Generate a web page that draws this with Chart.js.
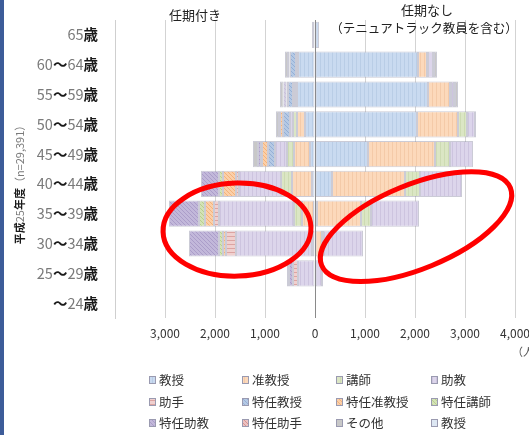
<!DOCTYPE html>
<html lang="ja">
<head>
<meta charset="utf-8">
<script src="https://cdn.jsdelivr.net/npm/chart.js"></script>
<style>
  body { margin: 0; background: #fff; }
  #wrap { position: relative; width: 529px; height: 435px; }
  #edge { position: absolute; left: 0; top: 0; width: 4px; height: 435px; background: #3d5c99; }
</style>
</head>
<body>
<div id="wrap"><div id="edge"></div><canvas id="myChart"></canvas></div>
<script>
const ages = ['65歳', '60〜64歳', '55〜59歳', '50〜54歳', '45〜49歳', '40〜44歳', '35〜39歳', '30〜34歳', '25〜29歳', '〜24歳'];
const xTicks = [-4000, -3000, -2000, -1000, 0, 1000, 2000, 3000, 4000];

// 任期付き (left side), people per age group
const fixedProf = [20, 340, 360, 200, 100, 60, 20, 0, 0, 0];
const fixedAssocProf = [0, 20, 40, 160, 320, 400, 240, 40, 0, 0];
const fixedLecturer = [0, 0, 0, 80, 140, 220, 160, 20, 0, 0];
const fixedAssistProf = [0, 20, 40, 60, 240, 840, 1500, 1520, 340, 0];
const fixedAssistant = [0, 0, 0, 0, 0, 60, 100, 200, 100, 0];
const specProf = [40, 120, 100, 140, 140, 0, 0, 0, 0, 0];
const specAssocProf = [0, 10, 20, 60, 120, 260, 180, 60, 0, 0];
const specLecturer = [0, 0, 10, 0, 20, 80, 120, 80, 0, 0];
const specAssistProf = [0, 30, 60, 20, 60, 360, 600, 600, 80, 0];
const specAssistant = [0, 0, 0, 0, 0, 0, 0, 0, 40, 0];
const fixedOther = [0, 60, 70, 60, 100, 0, 0, 0, 0, 0];

// 任期なし (right side)
const tenProf = [80, 2060, 2260, 2040, 1060, 340, 40, 0, 0, 0];
const tenAssocProf = [0, 180, 440, 820, 1340, 1460, 880, 140, 0, 0];
const tenLecturer = [0, 20, 20, 180, 300, 300, 200, 20, 0, 0];
const tenAssistProf = [0, 100, 60, 160, 460, 840, 960, 800, 140, 0];
const tenAssistant = [0, 20, 20, 20, 0, 0, 0, 0, 20, 0];
const tenOther = [0, 60, 60, 0, 0, 0, 0, 0, 0, 0];

const legendLabels = ['教授', '准教授', '講師', '助教', '助手', '特任教授', '特任准教授', '特任講師', '特任助教', '特任助手', 'その他', '教授'];

function texture(bg, line) {
  const c = document.createElement('canvas');
  c.width = 4; c.height = 4;
  const g = c.getContext('2d');
  g.fillStyle = bg; g.fillRect(0, 0, 4, 4);
  g.fillStyle = line; g.fillRect(0, 0, 1, 4);
  return g.createPattern(c, 'repeat');
}
function hatch(bg, line) {
  const c = document.createElement('canvas');
  c.width = 4; c.height = 4;
  const g = c.getContext('2d');
  g.fillStyle = bg; g.fillRect(0, 0, 4, 4);
  g.fillStyle = line;
  for (let i = 0; i < 4; i++) g.fillRect(i, i, 1, 1);
  return g.createPattern(c, 'repeat');
}
function stripe(bg, line) {
  const c = document.createElement('canvas');
  c.width = 4; c.height = 4;
  const g = c.getContext('2d');
  g.fillStyle = bg; g.fillRect(0, 0, 4, 4);
  g.fillStyle = line; g.fillRect(0, 0, 4, 1);
  return g.createPattern(c, 'repeat');
}

const fills = [
  texture('#c9daf0', '#b9cde6'),   // 教授
  texture('#fcd9bb', '#f4caa8'),   // 准教授
  texture('#dbe6c4', '#cddbb2'),   // 講師
  texture('#dcd5eb', '#cdc4df'),   // 助教
  stripe('#f0d0cf', '#dca4a2'),    // 助手
  hatch('#b5c9e4', '#95afd6'),     // 特任教授
  hatch('#fbcfa8', '#f4b27a'),     // 特任准教授
  hatch('#d3e2b6', '#b8cf8e'),     // 特任講師
  hatch('#c2b8da', '#ab9dc9'),     // 特任助教
  hatch('#ecc2c1', '#d9928f'),     // 特任助手
  '#c8c8c8',                       // その他
  '#dde7f3'                        // 教授
];

const leftSeries = [fixedProf, fixedAssocProf, fixedLecturer, fixedAssistProf, fixedAssistant,
  specProf, specAssocProf, specLecturer, specAssistProf, specAssistant, fixedOther];
const rightSeries = [tenProf, tenAssocProf, tenLecturer, tenAssistProf, tenAssistant];

const datasets = [];
leftSeries.forEach((arr, i) => datasets.push({
  label: legendLabels[i] + '（任期付き）',
  data: arr.map(v => -v),
  backgroundColor: fills[i]
}));
rightSeries.forEach((arr, i) => datasets.push({
  label: legendLabels[i] + '（任期なし）',
  data: arr,
  backgroundColor: fills[i]
}));
datasets.push({ label: 'その他（任期なし）', data: tenOther, backgroundColor: fills[10] });

const JP = '"Noto Sans CJK JP", "Noto Sans", sans-serif';

function mixedText(c, text, x, y, size, align) {
  const runs = text.match(/[0-9n=,（）]+|[^0-9n=,（）]+/g);
  const styles = runs.map(r => /[0-9n=,（）]/.test(r[0])
    ? [size + 'px ' + JP, '#7a7a7a']
    : ['bold ' + size + 'px ' + JP, '#1a1a1a']);
  c.save();
  c.textBaseline = 'middle';
  c.textAlign = 'left';
  let w = 0;
  const ws = runs.map((r, i) => { c.font = styles[i][0]; const m = c.measureText(r).width; w += m; return m; });
  let sx = align === 'right' ? x - w : align === 'center' ? x - w / 2 : x;
  runs.forEach((r, i) => {
    c.font = styles[i][0];
    c.fillStyle = styles[i][1];
    c.fillText(r, sx, y);
    sx += ws[i];
  });
  c.restore();
}

const overlay = {
  id: 'overlay',
  afterDraw(chart) {
    const c = chart.ctx;
    const xs = chart.scales.x;
    const ys = chart.scales.y;

    // age labels
    ages.forEach((a, i) => mixedText(c, a, 98, ys.getPixelForValue(i), 14.5, 'right'));

    // vertical title
    c.save();
    c.translate(20, 182);
    c.rotate(-Math.PI / 2);
    mixedText(c, '平成25年度（n=29,391）', 0, 0, 11, 'center');
    c.restore();

    // headers
    c.save();
    c.fillStyle = '#222';
    c.textAlign = 'center';
    c.textBaseline = 'middle';
    c.font = '13px ' + JP;
    c.fillText('任期付き', 195, 15);
    c.fillText('任期なし', 427, 10);
    c.font = '12.5px ' + JP;
    c.fillText('（テニュアトラック教員を含む）', 424, 28);
    c.textAlign = 'left';
    c.fillStyle = '#555';
    c.font = '11px ' + JP;
    c.fillText('（人）', 512, 352);
    c.restore();

    // legend, 3 rows x 4 columns
    c.save();
    c.textBaseline = 'middle';
    c.font = '12.5px ' + JP;
    const colX = [149, 242, 336, 431];
    const rowY = [380, 402, 423];
    legendLabels.forEach((lab, i) => {
      const bx = colX[i % 4], by = rowY[Math.floor(i / 4)];
      c.fillStyle = fills[i];
      c.fillRect(bx, by - 4, 7, 8);
      c.strokeStyle = '#9a9ab0';
      c.lineWidth = 1;
      c.strokeRect(bx + 0.5, by - 3.5, 6, 7);
      c.fillStyle = '#333';
      c.fillText(lab, bx + 10, by);
    });
    c.restore();

    // red annotation ellipses
    const midY = (ys.getPixelForValue(6) + ys.getPixelForValue(7)) / 2;
    c.save();
    c.strokeStyle = '#f00';
    c.lineWidth = 5;
    c.beginPath();
    c.ellipse(xs.getPixelForValue(-1560), midY + 1, 74, 46.5, -0.03, 0, Math.PI * 2);
    c.stroke();
    c.beginPath();
    c.ellipse(xs.getPixelForValue(2020), midY - 2, 102, 42, -0.39, 0, Math.PI * 2);
    c.stroke();
    c.restore();
  }
};

const ctx = document.getElementById('myChart');

new Chart(ctx, {
  type: 'bar',
  data: {
    labels: ages,
    datasets: datasets
  },
  options: {
    indexAxis: 'y',
    responsive: true,
    maintainAspectRatio: false,
    animation: false,
    barPercentage: 0.88,
    categoryPercentage: 1,
    borderWidth: 1,
    borderColor: 'rgba(140, 140, 165, 0.45)',
    borderSkipped: false,
    layout: { padding: { top: 20, right: 14, left: 0, bottom: 0 } },
    plugins: {
      legend: { display: false },
      tooltip: { enabled: false }
    },
    scales: {
      x: {
        stacked: true,
        min: -4000,
        max: 4000,
        z: 1,
        afterBuildTicks: (s) => { s.ticks = xTicks.map(v => ({ value: v })); },
        afterFit: (s) => { s.height = 117; s.paddingLeft = 0; s.paddingRight = 0; },
        ticks: {
          padding: 8,
          maxRotation: 0,
          color: '#333',
          font: { size: 12, family: JP },
          callback: (v) => v === -4000 ? '' : Math.abs(v).toLocaleString('en-US')
        },
        grid: {
          drawTicks: false,
          color: (c) => c.tick && c.tick.value === 0 ? '#8a8a8a' : 'rgba(200, 200, 200, 0.8)'
        },
        border: { display: false }
      },
      y: {
        stacked: true,
        afterFit: (s) => { s.width = 115; },
        ticks: { display: false },
        grid: { display: false, drawTicks: false },
        border: { display: true, color: '#cfcfcf' }
      }
    }
  },
  plugins: [overlay]
});
</script>
</body>
</html>
